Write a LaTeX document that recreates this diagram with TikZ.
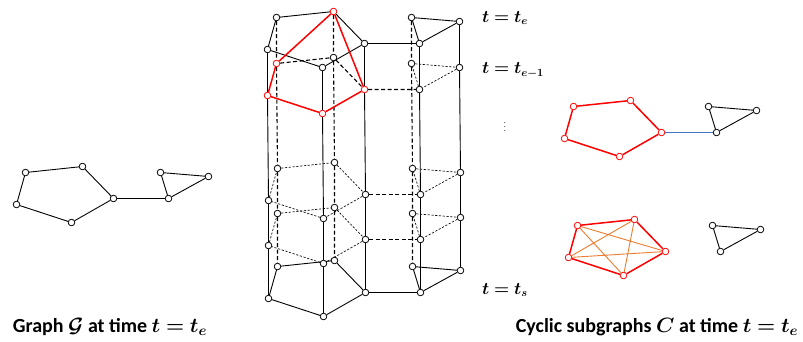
\documentclass[tikz,border=0pt]{standalone}
\usepackage{amsmath,amssymb,bm}
\usepackage{fontspec}
\setmainfont{Carlito}
\usetikzlibrary{calc,backgrounds}
\definecolor{bridgeblue}{RGB}{68,114,196}
\definecolor{chordorange}{RGB}{237,125,49}
\tikzset{
    vtx/.style={circle,draw=black,fill=white,line width=0.8pt,inner sep=0pt,minimum size=6.6pt},
    rvtx/.style={vtx,draw=red},
    % pentagon vertices, made red inside a scope when needed
    va/.style={vtx}, vb/.style={vtx}, vc/.style={vtx}, vd/.style={vtx}, ve/.style={vtx},
    thinline/.style={line width=0.9pt,black},
    redline/.style={line width=1.5pt,red},
    layerdash/.style={line width=0.65pt,dash pattern=on 2.2pt off 1.6pt},
    bolddash/.style={line width=1.1pt,dash pattern=on 4pt off 2.5pt},
    tlabel/.style={anchor=west,inner sep=0pt,font=\fontsize{16}{19}\selectfont},
    caption/.style={inner sep=0pt,font=\fontsize{20}{23}\selectfont\bfseries}
}
% one copy of the graph: pentagon a..e, bridge c--f, triangle f,g,h
\newcommand{\putgraph}[1]{%
    \node[va] (#1a) at (25.5,172.5) {};
    \node[vb] (#1b) at (82.5,166.5) {};
    \node[vc] (#1c) at (113.5,198.5) {};
    \node[vd] (#1d) at (71.5,222.5) {};
    \node[ve] (#1e) at (16.5,204.5) {};
    \node[vtx] (#1f) at (168.5,198.5) {};
    \node[vtx] (#1g) at (160.5,172.5) {};
    \node[vtx] (#1h) at (208.5,176.5) {};
}
\begin{document}
\begin{tikzpicture}[x=1pt,y=-1pt]
\useasboundingbox (0,0) rectangle (803,341);

% graph G
\putgraph{G}
\begin{scope}[on background layer]
\draw[thinline] (Ga)--(Gb)--(Gc)--(Gd)--(Ge)--(Ga) (Gc)--(Gf)--(Gg)--(Gh)--(Gf);
\end{scope}
\node[caption] (capG) at (110,327) {Graph $\bm{\mathcal{G}}$ at time $\bm{t=t_e}$};

% time layers, t_e on top
\begin{scope}[shift={(251,-155)},vb/.style=rvtx] \putgraph{L1} \end{scope}
\begin{scope}[shift={(251,-109)},va/.style=rvtx,vc/.style=rvtx,vd/.style=rvtx,ve/.style=rvtx] \putgraph{L2} \end{scope}
\begin{scope}[shift={(252,-4)}] \putgraph{L3} \end{scope}
\begin{scope}[shift={(252,41)}] \putgraph{L4} \end{scope}
\begin{scope}[shift={(252,94)}] \putgraph{L5} \end{scope}

\begin{scope}[on background layer]
%verticals
\foreach \v in {c,d,e,f,h}
    \draw[thinline] (L1\v)--(L2\v)--(L3\v)--(L4\v)--(L5\v);
\foreach \v in {a,b,g}
    \draw[bolddash] (L1\v)--(L2\v)--(L3\v)--(L4\v)--(L5\v);

%t_e
\draw[thinline] (L1a)--(L1b)--(L1c)--(L1d)--(L1e)--(L1a) (L1c)--(L1f)--(L1g)--(L1h)--(L1f);
%t_{e-1}
\draw[bolddash] (L2a)--(L2b)--(L2c) (L2c)--(L2f);
\draw[layerdash] (L2f)--(L2g)--(L2h)--(L2f);
%middle layers
\foreach \l in {L3,L4}{
    \draw[layerdash] (\l a)--(\l b)--(\l c)--(\l d)--(\l e)--(\l a) (\l f)--(\l g)--(\l h)--(\l f);
    \draw[bolddash] (\l c)--(\l f);
}
%t_s
\draw[thinline] (L5a)--(L5b)--(L5c)--(L5d)--(L5e)--(L5a) (L5c)--(L5f)--(L5g)--(L5h)--(L5f);

% cycle over two layers
\draw[redline] (L1b)--(L2a)--(L2e)--(L2d)--(L2c)--(L1b);
\end{scope}

% labels
\node[tlabel] (te) at (482,18) {$\bm{t=t_e}$};
\node[tlabel] (tprev) at (482,70) {$\bm{t=t_{e-1}}$};
\node[inner sep=0pt,font=\footnotesize] (dots) at (505,124) {$\vdots$};
\node[tlabel] (ts) at (482,290) {$\bm{t=t_s}$};

% cyclic subgraphs
\begin{scope}[shift={(548,-66)},va/.style=rvtx,vb/.style=rvtx,vc/.style=rvtx,vd/.style=rvtx,ve/.style=rvtx] \putgraph{P} \end{scope}
\begin{scope}[shift={(552,53)},va/.style=rvtx,vb/.style=rvtx,vc/.style=rvtx,vd/.style=rvtx,ve/.style=rvtx] \putgraph{Q} \end{scope}
\begin{scope}[on background layer]
\draw[redline] (Pa)--(Pb)--(Pc)--(Pd)--(Pe)--(Pa);
\draw[line width=1.5pt,bridgeblue] (Pc)--(Pf);
\draw[thinline] (Pf)--(Pg)--(Ph)--(Pf);

\draw[line width=0.9pt,chordorange] (Qa)--(Qc) (Qa)--(Qd) (Qb)--(Qd) (Qb)--(Qe) (Qe)--(Qc);
\draw[redline] (Qa)--(Qb)--(Qc)--(Qd)--(Qe)--(Qa);
\draw[thinline] (Qf)--(Qg)--(Qh)--(Qf);
\end{scope}
\node[caption] (capC) at (657,327) {Cyclic subgraphs $\bm{C}$ at time $\bm{t=t_e}$};

\end{tikzpicture}
\end{document}
